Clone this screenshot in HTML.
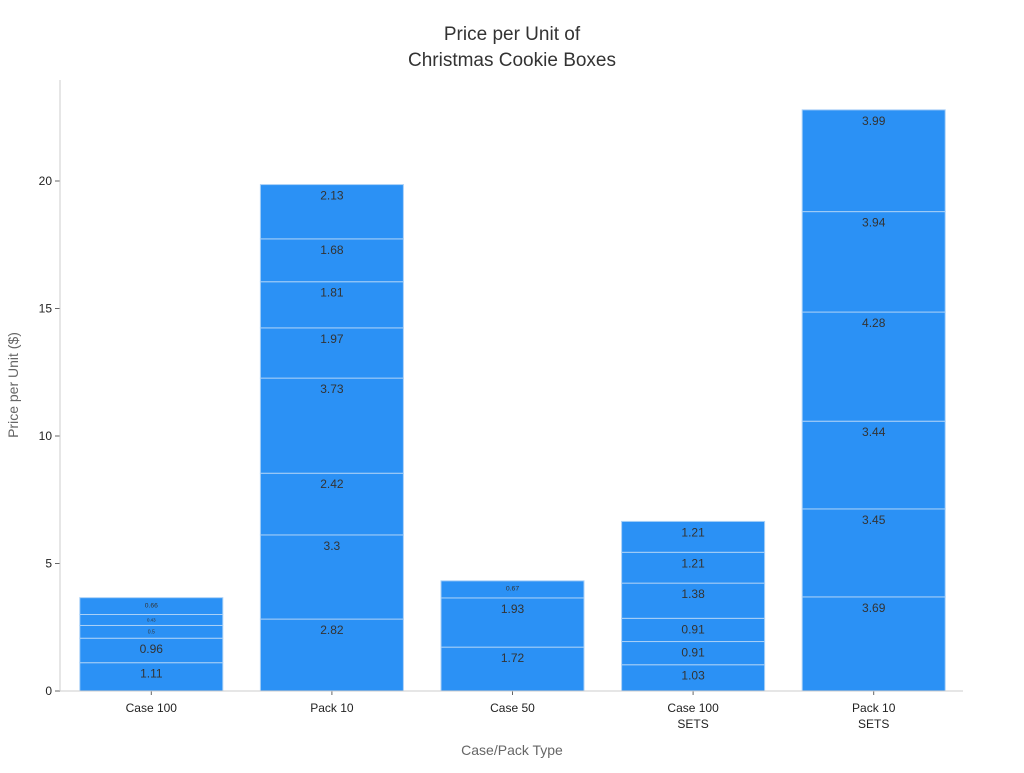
<!DOCTYPE html>
<html><head><meta charset="utf-8"><style>
body{margin:0;background:#fff;font-family:"Liberation Sans","DejaVu Sans",sans-serif}
</style></head><body>
<svg id="c" width="1024" height="768" xmlns="http://www.w3.org/2000/svg"></svg>
<script>
const categories=["Case 100","Pack 10","Case 50","Case 100\nSETS","Pack 10\nSETS"];
const segments=[
 [1.11,0.96,0.5,0.43,0.66],
 [2.82,3.3,2.42,3.73,1.97,1.81,1.68,2.13],
 [1.72,1.93,0.67],
 [1.03,0.91,0.91,1.38,1.21,1.21],
 [3.69,3.45,3.44,4.28,3.94,3.99]
];
const yTicks=[0,5,10,15,20];
const svg=document.getElementById('c');
const NS='http://www.w3.org/2000/svg';
const L=60,R=963,T=80,B=691;
const y=v=>B-v*25.5;
const band=(R-L)/categories.length;
const bw=143;
const x=i=>L+band*i+(band-bw)/2+1;
function el(t,a,p){const e=document.createElementNS(NS,t);for(const k in a)e.setAttribute(k,a[k]);(p||svg).appendChild(e);return e;}
function txt(s,a,n){const e=el('text',a);e.textContent=s;return e;}
txt("Price per Unit of",{x:512,y:40,'text-anchor':'middle','font-size':19,fill:'#333'},'chart-title-line1');
txt("Christmas Cookie Boxes",{x:512,y:66,'text-anchor':'middle','font-size':19,fill:'#333'},'chart-title-line2');
segments.forEach((segs,i)=>{
  let cum=0;
  const g=el('g',{});
  
  
  segs.forEach((v,j)=>{
    const y1=y(cum),y2=y(cum+v);
    const r=el('rect',{x:x(i),y:y2,width:bw,height:y1-y2,fill:'#2b91f5',stroke:'#a9d0f7','stroke-width':1},g);
    
    
    const h=y1-y2;
    const fs=h>20?12:Math.max(4,h*0.4);
    const t=txt(String(v),{x:x(i)+bw/2,y:y2+Math.min(h/2+fs*0.35,fs+3),'text-anchor':'middle','font-size':fs,fill:'#333'},'segment-label');
    cum+=v;
  });
  categories[i].split('\n').forEach((ln,k)=>txt(ln,{x:x(i)+bw/2,y:712+k*16,'text-anchor':'middle','font-size':12,fill:'#222'},'x-tick-label'));
  const tk=el('line',{x1:x(i)+bw/2,x2:x(i)+bw/2,y1:B,y2:B+4,stroke:'#666'});
  
  
});
yTicks.forEach(v=>{
  txt(String(v),{x:52,y:y(v)+4,'text-anchor':'end','font-size':12,fill:'#222'},'y-tick-label');
  const tk=el('line',{x1:55,x2:60,y1:y(v),y2:y(v),stroke:'#666'});
  
  
});
const ya=el('line',{x1:L,x2:L,y1:T,y2:B,stroke:'#ccc'});

const xa=el('line',{x1:L,x2:R,y1:B,y2:B,stroke:'#ccc'});

txt("Case/Pack Type",{x:512,y:755,'text-anchor':'middle','font-size':14,fill:'#666'},'x-axis-title');
txt("Price per Unit ($)",{x:18,y:385,'text-anchor':'middle','font-size':14,fill:'#666',transform:'rotate(-90 18 385)'},'y-axis-title');
</script>
</body></html>
